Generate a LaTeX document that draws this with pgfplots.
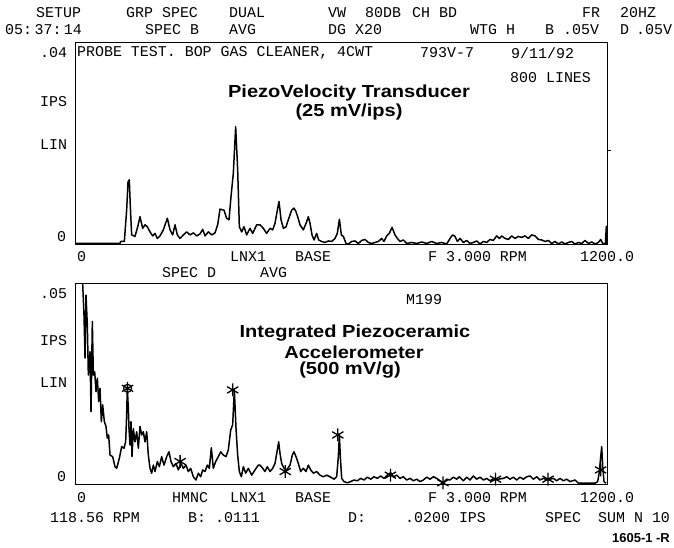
\documentclass[border=0pt]{standalone}
\usepackage{fontspec}
\usepackage{pgfplots}
\pgfplotsset{compat=1.18}
\newfontfamily\mono{Liberation Mono}
\newfontfamily\hv{Liberation Sans}
\newcommand\T[3]{\node[anchor=west,inner sep=0pt,font=\mono\fontsize{15}{15}\selectfont] at ({#1},{548-#2}) {#3};}
\newcommand\B[3]{\node[anchor=center,inner sep=0pt,xscale=1.15,font=\hv\bfseries\fontsize{17.5}{17.5}\selectfont] at ({#1},{548-#2}) {#3};}
\begin{document}
\begin{tikzpicture}[x=1bp,y=1bp]
\useasboundingbox (0,0) rectangle (674,548);
% ---------- top panel ----------
\begin{axis}[at={(75bp,304bp)},anchor=south west,scale only axis,width=532bp,height=202bp,
  xmin=0,xmax=1200,ymin=0,ymax=0.04,ticks=none,axis line style={line width=0.9pt}]
\addplot[black,line width=1.5pt,line join=round] coordinates {
(0,0.0001) (101.5,0.0001) (103,0.0005) (111.3,0.0005) (116.5,0.0067) (119.6,0.0123) (122.5,0.0127) (124.8,0.0074) (127.8,0.0018) (135.3,0.0015) (141.4,0.0034) (146.6,0.0054) (152.6,0.0031) (157.9,0.0038) (163.2,0.0034) (169.2,0.0024) (175.2,0.0016) (180.5,0.0021) (185.7,0.0011) (191.7,0.0016) (199.2,0.0028) (208.3,0.0051) (214.3,0.0028) (220.3,0.0018) (225.6,0.0038) (230.8,0.0018) (236.8,0.0011) (244.4,0.0018) (251.9,0.0024) (259.4,0.0018) (266.9,0.0022) (274.4,0.0016) (282.0,0.0020) (288.0,0.0029) (293.2,0.0016) (300.8,0.0024) (308.3,0.0018) (315.8,0.0022) (321.8,0.0038) (327.1,0.0069) (336.1,0.0067) (342.1,0.0051) (347.4,0.0048) (351.9,0.0094) (357.1,0.0140) (362.4,0.0232) (366.9,0.0147) (370.7,0.0034) (375.9,0.0024) (381.2,0.0034) (387.2,0.0018) (394.7,0.0031) (400.8,0.0021) (409.8,0.0038)
(417.3,0.0038) (424.8,0.0031) (432.3,0.0021) (439.9,0.0031) (445.9,0.0028) (451.1,0.0041) (456.4,0.0067) (460.2,0.0084) (464.7,0.0048) (470.0,0.0031) (476.0,0.0034) (481.2,0.0048) (488.7,0.0067) (494.0,0.0071) (498.5,0.0064) (502.3,0.0054) (507.5,0.0038) (515.0,0.0028) (522.6,0.0044) (526.3,0.0054) (530.1,0.0041) (534.6,0.0018) (539.1,0.0008) (545.1,0.0021) (549.6,0.0008) (556.4,0.0005) (563.9,0.0003) (571.4,0.0006) (579.0,0.0005) (586.5,0.0011) (591.7,0.0021) (596.3,0.0049) (600.8,0.0018) (605.3,0.0015) (611.3,0.0001) (616.6,0.0000) (624.1,0.0005) (631.6,0.0006) (639.1,0.0001) (646.6,0.0007) (654.1,0.0009) (661.7,0.0003) (669.2,0.0001) (676.7,0.0003) (684.2,0.0005) (691.7,0.0011) (697.0,0.0005) (703.0,0.0016) (709.0,0.0021) (715.1,0.0033) (721.8,0.0018) (727.1,0.0011) (733.1,0.0005) (740.6,0.0008) (748.1,0.0001) (759.4,0.0003) (770.7,0.0001) (782.0,0.0004) (793.3,0.0001) (804.5,0.0005) (815.8,0.0001) (827.1,0.0003) (838.4,0.0000)
(845.9,0.0011) (851.9,0.0018) (857.2,0.0015) (862.4,0.0005) (868.5,0.0011) (876.0,0.0003) (883.5,0.0007) (891.0,0.0001) (898.5,0.0003) (906.1,0.0006) (913.6,0.0000) (921.1,0.0005) (928.6,0.0003) (936.1,0.0009) (943.6,0.0007) (951.2,0.0016) (957.2,0.0011) (962.4,0.0016) (970.0,0.0011) (977.5,0.0009) (985.0,0.0016) (992.5,0.0011) (1000.0,0.0015) (1007.6,0.0013) (1015.1,0.0016) (1022.6,0.0011) (1030.1,0.0018) (1037.6,0.0016) (1045.2,0.0009) (1052.7,0.0008) (1060.2,0.0005) (1067.7,0.0007) (1075.2,0.0001) (1082.7,0.0005) (1090.3,0.0000) (1097.8,0.0004) (1105.3,0.0000) (1112.8,0.0003) (1120.3,0.0005) (1127.9,0.0000) (1135.4,0.0003) (1142.9,0.0001) (1150.4,0.0007) (1157.9,0.0001) (1165.4,0.0004) (1173.0,0.0000) (1180.5,0.0003) (1185.8,0.0009) (1190.3,0.0001) (1196.3,0.0000) (1198.5,0.0035) (1200,0.0000)
};
\end{axis}
% ---------- bottom panel ----------
\begin{axis}[at={(75bp,64bp)},anchor=south west,scale only axis,width=532bp,height=201bp,
  xmin=0,xmax=1200,ymin=0,ymax=0.05,ticks=none,axis line style={line width=0.9pt}]
\addplot[black,line width=1.5pt,line join=round] coordinates {
(17.3,0.0499) (20.3,0.0420) (22.6,0.0313) (24.8,0.0470) (27.8,0.0396) (30.1,0.0271) (33.8,0.0329) (36.1,0.0180) (39.1,0.0404) (41.4,0.0271) (44.4,0.0279) (47.4,0.0230) (50.4,0.0263) (53.4,0.0205) (56.4,0.0238) (59.4,0.0155) (62.4,0.0197) (66.2,0.0155) (69.9,0.0143) (72.9,0.0114) (75.9,0.0122) (79.0,0.0072) (85.0,0.0068) (90.2,0.0043) (94.0,0.0039) (100.0,0.0064) (105.3,0.0093) (110.5,0.0089) (114.3,0.0105) (116.5,0.0172) (118.0,0.0238) (120.3,0.0188) (121.8,0.0138) (124.1,0.0097) (126.3,0.0155) (128.6,0.0068) (131.6,0.0138) (135.3,0.0105) (139.1,0.0130) (142.9,0.0089) (146.6,0.0143) (150.4,0.0122) (154.1,0.0130) (157.9,0.0105) (161.7,0.0130) (165.4,0.0072) (169.2,0.0039) (172.9,0.0027) (176.7,0.0047) (180.5,0.0031) (185.7,0.0056) (190.2,0.0043) (195.5,0.0068) (200.7,0.0047) (206.8,0.0068) (212.0,0.0080) (216.5,0.0056) (221.8,0.0043) (227.8,0.0051) (233.1,0.0035) (239.1,0.0051) (244.4,0.0039) (250.4,0.0047) (255.6,0.0031) (260.9,0.0039) (266.9,0.0018) (272.9,0.0010) (278.2,0.0027) (283.5,0.0018) (288.0,0.0035) (293.2,0.0031) (298.5,0.0047) (303.0,0.0039) (307.5,0.0090) (312.0,0.0039) (317.3,0.0056) (323.3,0.0068) (328.6,0.0080) (334.6,0.0072) (340.6,0.0068) (345.9,0.0085) (351.1,0.0134) (355.6,0.0147) (359.4,0.0234) (363.2,0.0138) (366.9,0.0072) (370.7,0.0031) (375.2,0.0018) (379.7,0.0043) (385.0,0.0027) (391.0,0.0039) (398.5,0.0022) (406.0,0.0035) (413.5,0.0047)
(417.3,0.0047) (423.3,0.0039) (428.6,0.0031) (433.8,0.0043) (439.9,0.0031) (445.9,0.0039) (451.1,0.0051) (456.4,0.0085) (459.4,0.0105) (462.4,0.0076) (466.2,0.0051) (471.4,0.0039) (477.5,0.0035) (485.0,0.0047) (490.2,0.0072) (494.0,0.0080) (498.5,0.0068) (503.8,0.0051) (509.0,0.0031) (515.0,0.0039) (521.1,0.0031) (526.3,0.0047) (531.6,0.0035) (537.6,0.0027) (545.1,0.0031) (552.6,0.0022) (560.2,0.0018) (567.7,0.0022) (576.7,0.0017) (584.2,0.0012) (590.2,0.0018) (594.0,0.0068) (596.3,0.0122) (598.5,0.0068) (601.5,0.0014) (606.8,0.0006) (614.3,0.0003) (621.8,0.0006) (629.3,0.0010) (636.9,0.0008) (644.4,0.0014) (651.9,0.0010) (659.4,0.0017) (666.9,0.0012) (674.5,0.0018) (682.0,0.0014) (689.5,0.0020) (697.0,0.0014) (704.5,0.0022) (712.1,0.0028) (718.1,0.0018) (725.6,0.0022) (733.1,0.0014) (740.6,0.0018) (748.1,0.0010) (755.7,0.0014) (763.2,0.0008) (770.7,0.0012) (778.2,0.0006) (785.7,0.0010) (793.3,0.0017) (800.8,0.0012) (808.3,0.0018) (815.8,0.0014) (823.3,0.0008) (830.8,0.0003) (838.4,0.0012) (845.9,0.0010) (853.4,0.0017) (860.9,0.0012) (866.9,0.0018)
(876.0,0.0008) (883.5,0.0017) (891.0,0.0010) (898.5,0.0020) (906.1,0.0012) (913.6,0.0017) (921.1,0.0010) (928.6,0.0014) (936.1,0.0008) (943.6,0.0013) (954.9,0.0012) (966.2,0.0014) (973.7,0.0018) (981.2,0.0012) (988.8,0.0017) (996.3,0.0010) (1003.8,0.0017) (1011.3,0.0012) (1018.8,0.0018) (1026.4,0.0020) (1033.9,0.0012) (1041.4,0.0018) (1048.9,0.0010) (1056.4,0.0014) (1065.5,0.0010) (1071.5,0.0012) (1079.0,0.0014) (1086.5,0.0008) (1094.0,0.0014) (1101.5,0.0008) (1109.1,0.0012) (1116.6,0.0006) (1127.9,0.0010) (1135.4,0.0002) (1146.7,0.0002) (1161.7,0.0002) (1173.0,0.0002) (1179.0,0.0006) (1182.8,0.0031) (1185.8,0.0068) (1188.0,0.0093) (1190.3,0.0043) (1193.3,0.0006) (1197.8,0.0002)
};
\addplot[only marks,black,mark=asterisk,mark size=6.5pt,mark options={line width=1.3pt}] coordinates {
(118.56,0.0238) (237.1,0.0056) (355.7,0.0234) (474.2,0.0031) (592.8,0.0122) (711.4,0.0022) (829.9,0.0003) (948.5,0.0012) (1067.0,0.0012) (1185.6,0.0035)
};
\addplot[only marks,black,mark=o,mark size=4pt,mark options={line width=1.2pt}] coordinates {(118.56,0.0238)};
\end{axis}
% right border tick
\draw[line width=0.8pt] (607,{548-150}) -- (611,{548-150});
% ---------- header text ----------
\T{36}{13}{SETUP}
\T{126}{13}{GRP SPEC}
\T{229}{13}{DUAL}
\T{328}{13}{VW}
\T{365}{13}{80DB}
\T{412}{13}{CH BD}
\T{582}{13}{FR}
\T{620}{13}{20HZ}
\T{5}{30}{05:\,37:\,14}
\T{145}{30}{SPEC B}
\T{229}{30}{AVG}
\T{328}{30}{DG X20}
\T{470}{30}{WTG H}
\T{545}{30}{B}
\T{563}{30}{.05V}
\T{620}{30}{D}
\T{636}{30}{.05V}
\T{40}{53}{.04}
\T{77}{53}{PROBE TEST. BOP GAS CLEANER, 4CWT}
\T{420}{53}{793V-7}
\T{511}{53}{9/11/92}
\T{510}{78}{800 LINES}
\T{40}{102}{IPS}
\T{40}{145}{LIN}
\T{57}{237}{0}
\T{77}{257}{0}
\T{230}{257}{LNX1}
\T{295}{257}{BASE}
\T{428}{257}{F 3.000 RPM}
\T{580}{257}{1200.0}
\T{162}{273}{SPEC D}
\T{260}{273}{AVG}
\T{40}{294}{.05}
\T{40}{341}{IPS}
\T{40}{383}{LIN}
\T{57}{477}{0}
\T{406}{300}{M199}
\T{77}{498}{0}
\T{172}{498}{HMNC}
\T{230}{498}{LNX1}
\T{295}{498}{BASE}
\T{428}{498}{F 3.000 RPM}
\T{580}{498}{1200.0}
\T{50}{518}{118.56 RPM}
\T{188}{518}{B: .0111}
\T{348}{518}{D:}
\T{405}{518}{.0200 IPS}
\T{545}{518}{SPEC}
\T{598}{518}{SUM N 10}
\node[anchor=east,inner sep=0pt,font=\hv\bfseries\fontsize{13}{13}\selectfont] at (670,{548-538}) {1605-1 -R};
% ---------- bold titles ----------
\B{349}{93}{PiezoVelocity Transducer}
\B{349}{112}{(25 mV/ips)}
\B{355}{333}{Integrated Piezoceramic}
\B{354}{352}{Accelerometer}
\B{350}{370}{(500 mV/g)}
\end{tikzpicture}
\end{document}
